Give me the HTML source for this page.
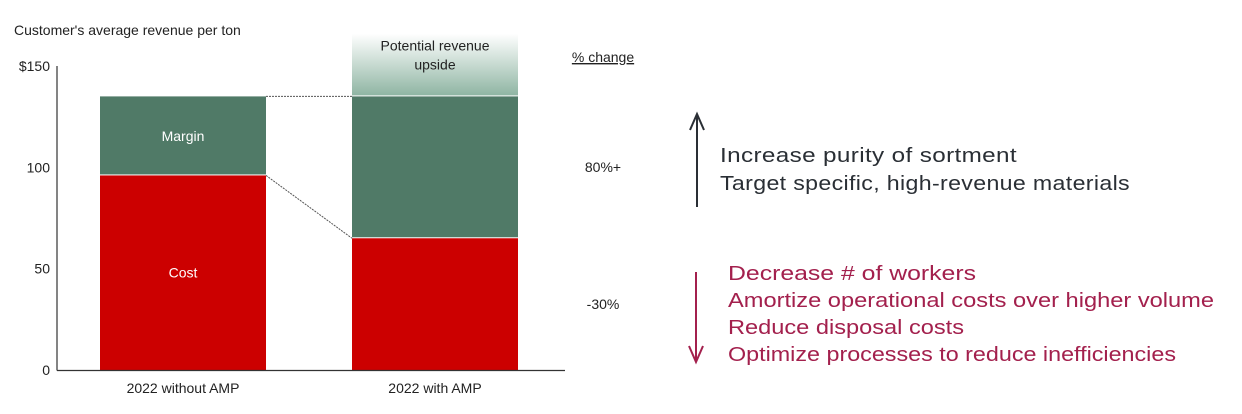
<!DOCTYPE html>
<html><head><meta charset="utf-8"><style>
body{margin:0;background:#fff;width:1242px;height:409px;overflow:hidden;font-family:"Liberation Sans",sans-serif}
svg text{font-family:"Liberation Sans",sans-serif}
</style></head><body>
<svg width="1242" height="409">
<defs><linearGradient id="g" x1="0" y1="0" x2="0" y2="1"><stop offset="0" stop-color="#fff"/><stop offset="1" stop-color="#8fb5a3"/></linearGradient></defs>
<text x="14" y="35" font-size="14" fill="#222">Customer's average revenue per ton</text>
<g id="plot"></g>
<text x="603" y="62" font-size="14" fill="#222" text-anchor="middle" text-decoration="underline">% change</text>
<text x="603" y="172" font-size="14" fill="#222" text-anchor="middle">80%+</text>
<text x="603" y="309" font-size="14" fill="#222" text-anchor="middle">-30%</text>
<g stroke="#2a2f35" stroke-width="2" fill="none"><line x1="697" y1="115" x2="697" y2="207"/><polyline points="690,130 697,114 704,130"/></g>
<g font-size="20" fill="#2a2f35" font-family="'DejaVu Sans',sans-serif" style="letter-spacing:0.3px">
<text x="720" y="162" textLength="297" lengthAdjust="spacingAndGlyphs">Increase purity of sortment</text>
<text x="720" y="190" textLength="410" lengthAdjust="spacingAndGlyphs">Target specific, high-revenue materials</text>
</g>
<g stroke="#a3204d" stroke-width="2" fill="none"><line x1="696" y1="272" x2="696" y2="362"/><polyline points="689,346 696,362 703,346"/></g>
<g font-size="20" fill="#a3204d" font-family="'DejaVu Sans',sans-serif">
<text x="728" y="280" textLength="248" lengthAdjust="spacingAndGlyphs">Decrease # of workers</text>
<text x="728" y="307" textLength="486" lengthAdjust="spacingAndGlyphs">Amortize operational costs over higher volume</text>
<text x="728" y="334" textLength="236" lengthAdjust="spacingAndGlyphs">Reduce disposal costs</text>
<text x="728" y="361" textLength="448" lengthAdjust="spacingAndGlyphs">Optimize processes to reduce inefficiencies</text>
</g>
</svg>
<script>
const categories=["2022 without AMP","2022 with AMP"];
const costValues=[96,65];
const marginValues=[39,70];
const upsideValues=[0,31];
const yTicks=[0,50,100,150];
const yTickLabels=["0","50","100","$150"];
const NS="http://www.w3.org/2000/svg";
const g=document.getElementById('plot');
const y0=370,pxPer=(370-66)/150;
const Y=v=>y0-v*pxPer;
const barX=i=>100+i*252, bw=166;
function mk(t,a,p){const e=document.createElementNS(NS,t);for(const k in a)e.setAttribute(k,a[k]);(p||g).appendChild(e);return e;}
yTicks.forEach((t,i)=>{const e=mk('text',{x:50,y:Y(t)+5,'font-size':14,fill:'#222','text-anchor':'end'});e.textContent=yTickLabels[i];

});
categories.forEach((c,i)=>{
const x=barX(i);
const cost=mk('rect',{x:x,y:Y(costValues[i]),width:bw,height:costValues[i]*pxPer,fill:'#cc0000'});


const tot=costValues[i]+marginValues[i];
const m=mk('rect',{x:x,y:Y(tot),width:bw,height:marginValues[i]*pxPer-1,fill:'#507a67'});


if(upsideValues[i]>0){const u=mk('rect',{x:x,y:Y(tot+upsideValues[i]),width:bw,height:upsideValues[i]*pxPer-1,fill:'url(#g)'});


const t1=mk('text',{x:x+bw/2,y:Y(tot+upsideValues[i])+17,'font-size':14,fill:'#222','text-anchor':'middle'});t1.textContent='Potential revenue';


const t2=mk('text',{x:x+bw/2,y:Y(tot+upsideValues[i])+36,'font-size':14,fill:'#222','text-anchor':'middle'});t2.textContent='upside';

}
const l=mk('text',{x:x+bw/2,y:393,'font-size':14,fill:'#222','text-anchor':'middle'});l.textContent=c;


});
const ml=mk('text',{x:barX(0)+bw/2,y:(Y(costValues[0]+marginValues[0])+Y(costValues[0]))/2+5,'font-size':14,fill:'#fff','text-anchor':'middle'});ml.textContent='Margin';


const cl=mk('text',{x:barX(0)+bw/2,y:Y(costValues[0]/2)+5,'font-size':14,fill:'#fff','text-anchor':'middle'});cl.textContent='Cost';


const c1=mk('line',{x1:barX(0)+bw,y1:Y(costValues[0]+marginValues[0]),x2:barX(1),y2:Y(costValues[1]+marginValues[1]),stroke:'#555','stroke-dasharray':'2,1'});


const c2=mk('line',{x1:barX(0)+bw,y1:Y(costValues[0]),x2:barX(1),y2:Y(costValues[1]),stroke:'#555','stroke-dasharray':'2,1'});


const ya=mk('line',{x1:57,y1:66,x2:57,y2:370.5,stroke:'#333','stroke-width':1.2});


const xa=mk('line',{x1:57,y1:370.5,x2:565,y2:370.5,stroke:'#333','stroke-width':1.2});


</script>
</body></html>
